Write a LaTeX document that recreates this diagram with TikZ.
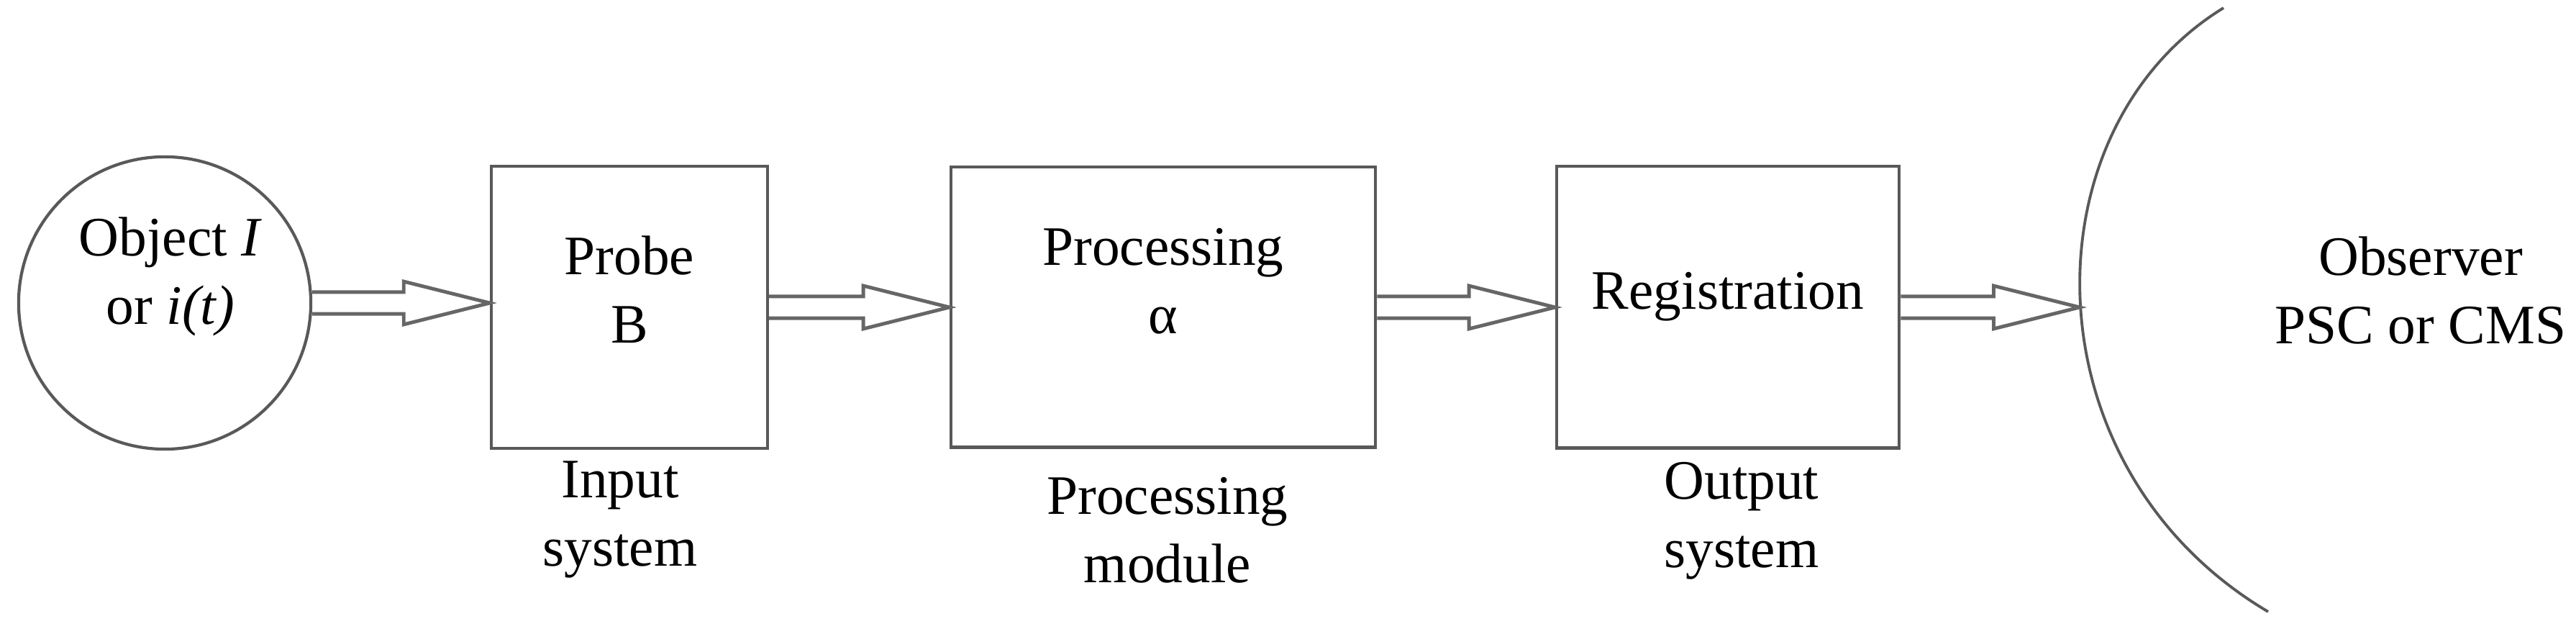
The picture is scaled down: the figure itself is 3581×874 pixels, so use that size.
\documentclass[tikz,border=0pt]{standalone}
\usepackage{fontspec}
\setmainfont{Liberation Serif}
\usetikzlibrary{calc}
\begin{document}
\begin{tikzpicture}[x=0.01cm,y=-0.01cm,
  box/.style={draw=black!65,line width=1.2pt,rectangle,inner sep=0pt},
  txt/.style={font=\rmfamily\fontsize{22}{27}\selectfont,align=center,inner sep=0pt},
  arr/.style={draw=black!60,line width=1.4pt,line join=miter}]
\useasboundingbox (0,0) rectangle (3581,874);
\node[box,circle,minimum size=4.06cm] (obj) at (229,421) {};
\node[txt] (objt) at (237,384) {Object \textit{I}\\or \textit{i(t)}};
\node[box,minimum width=3.84cm,minimum height=3.92cm] (probe) at (875,427) {};
\node[txt] (probet) at (875,402) {Probe\\B};
\node[box,minimum width=5.9cm,minimum height=3.89cm] (proc) at (1617,427) {};
\node[txt] (proct) at (1617,391) {Processing\\α};
\node[box,minimum width=4.76cm,minimum height=3.91cm] (reg) at (2402,427) {};
\node[txt] (regt) at (2402,412) {Registration};
\node[txt] (l1) at (862,722) {Input\\system};
\node[txt] (l2) at (1623,737) {Processing\\module};
\node[txt] (l3) at (2421,724) {Output\\system};
\node[txt] (obst) at (3365,404) {Observer\\PSC or CMS};
\draw[draw=black!65,line width=1.1pt] (3091,11) .. controls (2815,180) and (2815,650) .. (3153,850);
\coordinate (obs) at (2891,427);
\newcommand{\hollowarrow}[2]{%
  \draw[arr] let \p1=(#1), \p2=(#2) in
    (\x1,\y1+4.3pt) -- (\x2-34pt,\y1+4.3pt) -- (\x2-34pt,\y1+8.5pt) -- (\x2,\y1)
    -- (\x2-34pt,\y1-8.5pt) -- (\x2-34pt,\y1-4.3pt) -- (\x1,\y1-4.3pt);}
\hollowarrow{obj.east}{probe.west}
\hollowarrow{probe.east}{proc.west}
\hollowarrow{proc.east}{reg.west}
\hollowarrow{reg.east}{obs}
\end{tikzpicture}
\end{document}
